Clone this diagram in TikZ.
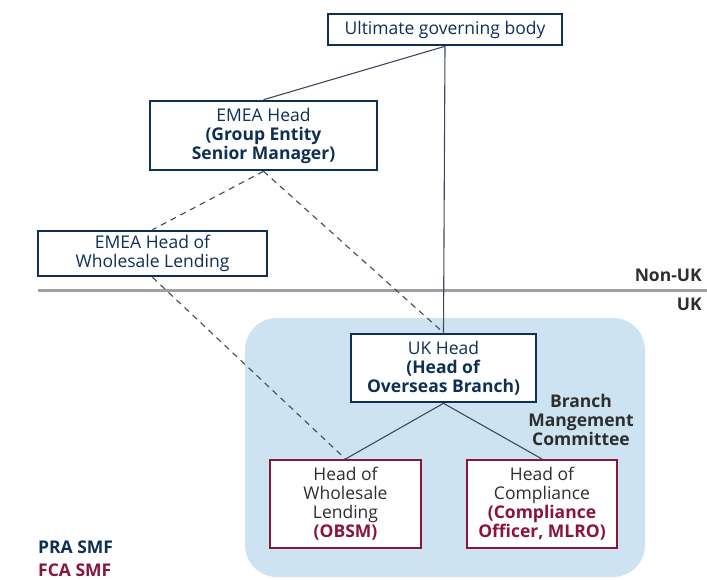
\documentclass[tikz,border=0pt]{standalone}
\usepackage{fontspec}
\setmainfont{Open Sans}
\definecolor{praBlue}{HTML}{0E2F56}
\definecolor{fcaRed}{HTML}{8A1538}
\definecolor{branchFill}{HTML}{CDE3F1}
\definecolor{linkGrey}{HTML}{3C4B5C}
\definecolor{textGrey}{HTML}{2E2E2E}
\newcommand{\boxfont}{\fontsize{17.5}{19}\selectfont}
\tikzset{
  prabox/.style={draw=praBlue, line width=2.6pt, fill=white, text=praBlue, align=center, inner sep=0pt, font=\boxfont},
  fcabox/.style={draw=fcaRed, line width=2pt, fill=white, text=textGrey, align=center, inner sep=0pt, font=\boxfont},
  link/.style={draw=linkGrey, line width=1.1pt},
  dashlink/.style={link, dash pattern=on 6pt off 5pt},
  sidelabel/.style={text=textGrey, font=\boxfont\bfseries, inner sep=0pt}
}
\begin{document}
\begin{tikzpicture}[x=1pt, y=-1pt]
    \useasboundingbox (0,0) rectangle (707,579);
    % branch area and border
    \filldraw[fill=branchFill, draw=none, rounded corners=32pt] (245,318) rectangle (645,577);
    \draw[gray!75, line width=2.8pt] (38,290.5) -- (707,290.5);
    \draw (702,281) node[sidelabel, anchor=base east] (nonuk) {Non-UK};
    \draw (702,310.5) node[sidelabel, anchor=base east] (uk) {UK};
    % boxes
    \node[prabox, minimum width=234, minimum height=31] (ugb) at (445,29.5) {Ultimate governing body};
    \node[prabox, minimum width=227, minimum height=69] (emea) at (263.5,135.5) {EMEA Head\\\textbf{(Group Entity}\\\textbf{Senior Manager)}};
    \node[prabox, minimum width=229, minimum height=45] (emeahwl) at (152.5,253.5) {EMEA Head of\\Wholesale Lending};
    \node[prabox, minimum width=185, minimum height=68] (ukhead) at (443.5,368) {UK Head\\\textbf{(Head of}\\\textbf{Overseas Branch)}};
    \node[fcabox, minimum width=151, minimum height=88] (hwl) at (345.5,504) {Head of\\Wholesale\\Lending\\\textcolor{fcaRed}{\textbf{(OBSM)}}};
    \node[fcabox, minimum width=150, minimum height=88] (hoc) at (542,504) {Head of\\Compliance\\\textcolor{fcaRed}{\textbf{(Compliance}}\\\textcolor{fcaRed}{\textbf{Officer, MLRO)}}};
    \node[sidelabel, align=center] (bmc) at (581,420) {Branch\\Mangement\\Committee};
    % reporting lines
    \draw[link] (ugb.south) -- (emea.north);
    \draw[link] (ugb.south) -- (ukhead.north);
    \draw[link] (ukhead.south) -- (hwl.north);
    \draw[link] (ukhead.south) -- (hoc.north);
    \draw[dashlink] (emea.south) -- (emeahwl.north);
    \draw[dashlink] (emea.south) -- (ukhead.north);
    \draw[dashlink] (emeahwl.south) -- (hwl.north);
    % legend
    \draw (38,553) node[anchor=base west, inner sep=0pt, text=praBlue, font=\boxfont\bfseries] (pra) {PRA SMF};
    \draw (38,576) node[anchor=base west, inner sep=0pt, text=fcaRed, font=\boxfont\bfseries] (fca) {FCA SMF};
\end{tikzpicture}
\end{document}
